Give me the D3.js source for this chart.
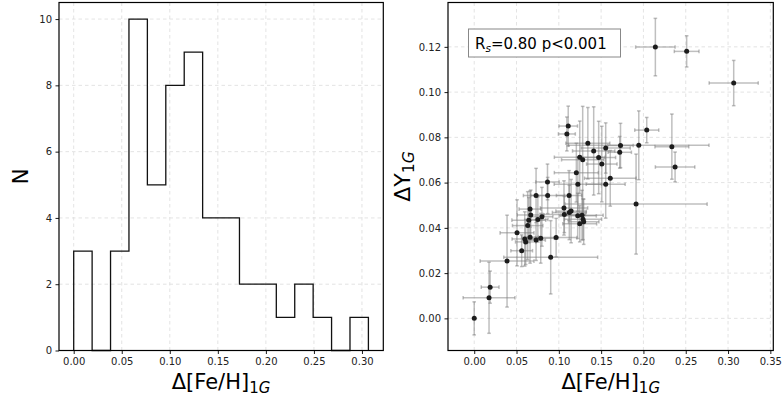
<!DOCTYPE html>
<html lang="en">
<head>
    <meta charset="UTF-8">
    <title>dFe vs dY</title>
    <script src="https://cdn.jsdelivr.net/npm/d3@7"></script>
    <style>
        body { margin: 0; background: #fff; }
        text { font-family: "DejaVu Sans", sans-serif; fill: #000; }
        .tick text { font-size: 10px; fill: #222; }
        .grid line { stroke: #dcdcdc; stroke-dasharray: 3.5,3; stroke-width: 0.8; }
    </style>
</head>
<body>
<svg width="784" height="402"></svg>
<script>
    // histogram of delta [Fe/H]_1G (16 bins between min and max)
    var histRange = [0, 0.3067];
    var histCounts = [3, 0, 3, 10, 5, 8, 9, 4, 4, 2, 2, 1, 2, 1, 0, 1];
    var histYTicks = [0, 2, 4, 6, 8, 10];
    var histXTicks = [0, 0.05, 0.10, 0.15, 0.20, 0.25, 0.30];

    // scatter: delta [Fe/H]_1G vs delta Y_1G with errors
    var feh = [0.0000, 0.0175, 0.0188, 0.0388, 0.0506, 0.0561, 0.0597, 0.0608, 0.0632, 0.0645,
               0.0660, 0.0660, 0.0668, 0.0731, 0.0731, 0.0752, 0.0786, 0.0800, 0.0866, 0.0868,
               0.0904, 0.0968, 0.1061, 0.1065, 0.1095, 0.1111, 0.1121, 0.1124, 0.1145, 0.1207,
               0.1223, 0.1225, 0.1247, 0.1247, 0.1274, 0.1282, 0.1286, 0.1294, 0.1343, 0.1412,
               0.1471, 0.1508, 0.1554, 0.1554, 0.1608, 0.1720, 0.1729, 0.1913, 0.1945, 0.2039,
               0.2141, 0.2336, 0.2374, 0.2511, 0.3067];
    var dY = [0.0000, 0.0091, 0.0138, 0.0253, 0.0378, 0.0299, 0.0351, 0.0338, 0.0410, 0.0434,
              0.0359, 0.0483, 0.0457, 0.0346, 0.0543, 0.0437, 0.0354, 0.0449, 0.0603, 0.0543,
              0.0270, 0.0357, 0.0488, 0.0459, 0.0815, 0.0850, 0.0543, 0.0468, 0.0474, 0.0644,
              0.0453, 0.0593, 0.0712, 0.0418, 0.0456, 0.0701, 0.0438, 0.0427, 0.0774, 0.0740,
              0.0711, 0.0682, 0.0753, 0.0593, 0.0619, 0.0734, 0.0764, 0.0505, 0.0765, 0.0832,
              0.1199, 0.0759, 0.0669, 0.1180, 0.1040];
    var fehErr = [0.0000, 0.0306, 0.0105, 0.0318, 0.0200, 0.0128, 0.0150, 0.0120, 0.0180, 0.0200,
                  0.0100, 0.0130, 0.0160, 0.0110, 0.0150, 0.0120, 0.0160, 0.0130, 0.0138, 0.0200,
                  0.0555, 0.0246, 0.0280, 0.0250, 0.0100, 0.0110, 0.0150, 0.0200, 0.0180, 0.0260,
                  0.0220, 0.0280, 0.0300, 0.0200, 0.0250, 0.0250, 0.0220, 0.0180, 0.0260, 0.0250,
                  0.0200, 0.0180, 0.0290, 0.0230, 0.0305, 0.0138, 0.0150, 0.0840, 0.0830, 0.0142,
                  0.0233, 0.0200, 0.0233, 0.0146, 0.0290];
    var dYErr = [0.0073, 0.0157, 0.0071, 0.0203, 0.0146, 0.0070, 0.0120, 0.0100, 0.0150, 0.0100,
                 0.0115, 0.0080, 0.0110, 0.0090, 0.0120, 0.0100, 0.0110, 0.0130, 0.0079, 0.0080,
                 0.0162, 0.0085, 0.0120, 0.0080, 0.0075, 0.0088, 0.0110, 0.0120, 0.0140, 0.0130,
                 0.0100, 0.0120, 0.0160, 0.0080, 0.0110, 0.0236, 0.0090, 0.0100, 0.0158, 0.0195,
                 0.0160, 0.0167, 0.0111, 0.0150, 0.0123, 0.0070, 0.0098, 0.0221, 0.0152, 0.0056,
                 0.0127, 0.0144, 0.0066, 0.0069, 0.0100];
    var scatXTicks = [0, 0.05, 0.10, 0.15, 0.20, 0.25, 0.30, 0.35];
    var scatYTicks = [0, 0.02, 0.04, 0.06, 0.08, 0.10, 0.12];
    var statText = ["R", "s", "=0.80 p<0.001"];

    var svg = d3.select("svg");
    var plotTop = 2.5, plotBottom = 350.5;

    // ---------- left: histogram ----------
    var x1 = d3.scaleLinear().domain([-0.0153, 0.3222]).range([59, 383.3]);
    var y1 = d3.scaleLinear().domain([0, 10.5]).range([plotBottom, plotTop]);
    var g1 = svg.append("g");

    g1.append("g").attr("class", "grid")
        .selectAll("line").data(histXTicks).enter().append("line")
        .attr("x1", d => x1(d)).attr("x2", d => x1(d)).attr("y1", plotTop).attr("y2", plotBottom);
    g1.append("g").attr("class", "grid")
        .selectAll("line").data(histYTicks).enter().append("line")
        .attr("y1", d => y1(d)).attr("y2", d => y1(d)).attr("x1", 59).attr("x2", 383.3);

    var binW = (histRange[1] - histRange[0]) / histCounts.length;
    var stepPts = [[histRange[0], 0]];
    histCounts.forEach(function (c, i) {
        stepPts.push([histRange[0] + i * binW, c]);
        stepPts.push([histRange[0] + (i + 1) * binW, c]);
    });
    stepPts.push([histRange[1], 0]);
    g1.append("path")
        .attr("d", d3.line().x(d => x1(d[0])).y(d => y1(d[1]))(stepPts))
        .attr("fill", "none").attr("stroke", "#111").attr("stroke-width", 1.3);

    g1.append("g").attr("transform", "translate(0," + plotBottom + ")")
        .call(d3.axisBottom(x1).tickValues(histXTicks).tickFormat(d3.format(".2f")).tickSizeOuter(0).tickSize(3.5).tickPadding(3.5));
    g1.append("g").attr("transform", "translate(59,0)")
        .call(d3.axisLeft(y1).tickValues(histYTicks).tickFormat(d3.format("d")).tickSizeOuter(0).tickSize(3.5).tickPadding(3.5));
    g1.append("rect").attr("x", 59).attr("y", plotTop).attr("width", 383.3 - 59).attr("height", plotBottom - plotTop)
        .attr("fill", "none").attr("stroke", "#000").attr("stroke-width", 1.2);

    // axis labels
    var xl1 = g1.append("text").attr("x", 221).attr("y", 389).attr("text-anchor", "middle").style("font-size", "21px");
    xl1.append("tspan").text("Δ[Fe/H]");
    xl1.append("tspan").attr("dy", 4).style("font-size", "15px").text("1");
    xl1.append("tspan").style("font-size", "15px").style("font-style", "italic").text("G");
    g1.append("text").attr("transform", "translate(28,176.5) rotate(-90)")
        .attr("text-anchor", "middle").style("font-size", "21px").text("N");

    // ---------- right: scatter with errors ----------
    var x2 = d3.scaleLinear().domain([-0.031, 0.3535]).range([448, 773.3]);
    var y2 = d3.scaleLinear().domain([-0.0142, 0.1396]).range([plotBottom, plotTop]);
    var g2 = svg.append("g");

    g2.append("g").attr("class", "grid")
        .selectAll("line").data(scatXTicks).enter().append("line")
        .attr("x1", d => x2(d)).attr("x2", d => x2(d)).attr("y1", plotTop).attr("y2", plotBottom);
    g2.append("g").attr("class", "grid")
        .selectAll("line").data(scatYTicks).enter().append("line")
        .attr("y1", d => y2(d)).attr("y2", d => y2(d)).attr("x1", 448).attr("x2", 773.3);

    var pts = feh.map(function (v, i) {
        return { x: v, y: dY[i], xe: fehErr[i], ye: dYErr[i] };
    });
    var cap = 1.8;
    var eb = g2.append("g").attr("stroke", "rgba(128,128,128,0.5)").attr("stroke-width", 1.5);
    pts.forEach(function (d) {
        var cx = x2(d.x), cy = y2(d.y);
        if (d.xe > 0) {
            var xa = x2(d.x - d.xe), xb = x2(d.x + d.xe);
            eb.append("line").attr("x1", xa).attr("x2", xb).attr("y1", cy).attr("y2", cy);
            eb.append("line").attr("x1", xa).attr("x2", xa).attr("y1", cy - cap).attr("y2", cy + cap);
            eb.append("line").attr("x1", xb).attr("x2", xb).attr("y1", cy - cap).attr("y2", cy + cap);
        }
        var ya = y2(d.y - d.ye), yb = y2(d.y + d.ye);
        eb.append("line").attr("x1", cx).attr("x2", cx).attr("y1", ya).attr("y2", yb);
        eb.append("line").attr("x1", cx - cap).attr("x2", cx + cap).attr("y1", ya).attr("y2", ya);
        eb.append("line").attr("x1", cx - cap).attr("x2", cx + cap).attr("y1", yb).attr("y2", yb);
    });
    g2.append("g").selectAll("circle").data(pts).enter().append("circle")
        .attr("cx", d => x2(d.x)).attr("cy", d => y2(d.y)).attr("r", 2.5)
        .attr("fill", "#1c1c1c");

    g2.append("g").attr("transform", "translate(0," + plotBottom + ")")
        .call(d3.axisBottom(x2).tickValues(scatXTicks).tickFormat(d3.format(".2f")).tickSizeOuter(0).tickSize(3.5).tickPadding(3.5));
    g2.append("g").attr("transform", "translate(448,0)")
        .call(d3.axisLeft(y2).tickValues(scatYTicks).tickFormat(d3.format(".2f")).tickSizeOuter(0).tickSize(3.5).tickPadding(3.5));
    g2.append("rect").attr("x", 448).attr("y", plotTop).attr("width", 773.3 - 448).attr("height", plotBottom - plotTop)
        .attr("fill", "none").attr("stroke", "#000").attr("stroke-width", 1.2);

    // stats box
    g2.append("rect").attr("x", 468.5).attr("y", 29).attr("width", 152).attr("height", 28)
        .attr("fill", "#fff").attr("stroke", "#888").attr("stroke-width", 1);
    var st = g2.append("text").attr("x", 475).attr("y", 48.5).style("font-size", "15px");
    st.append("tspan").text(statText[0]);
    st.append("tspan").attr("dy", 3).style("font-size", "10.5px").style("font-style", "italic").text(statText[1]);
    st.append("tspan").attr("dy", -3).text(statText[2]);

    var xl2 = g2.append("text").attr("x", 610.7).attr("y", 389).attr("text-anchor", "middle").style("font-size", "21px");
    xl2.append("tspan").text("Δ[Fe/H]");
    xl2.append("tspan").attr("dy", 4).style("font-size", "15px").text("1");
    xl2.append("tspan").style("font-size", "15px").style("font-style", "italic").text("G");
    var yl2 = g2.append("text").attr("transform", "translate(410,176.5) rotate(-90)")
        .attr("text-anchor", "middle").style("font-size", "22px");
    yl2.append("tspan").text("ΔY");
    yl2.append("tspan").attr("dy", 4).style("font-size", "15.5px").text("1");
    yl2.append("tspan").style("font-size", "15.5px").style("font-style", "italic").text("G");

    svg.selectAll(".domain").remove();
    svg.selectAll(".tick line").attr("stroke", "#000").attr("stroke-width", 0.9);
</script>
</body>
</html>
